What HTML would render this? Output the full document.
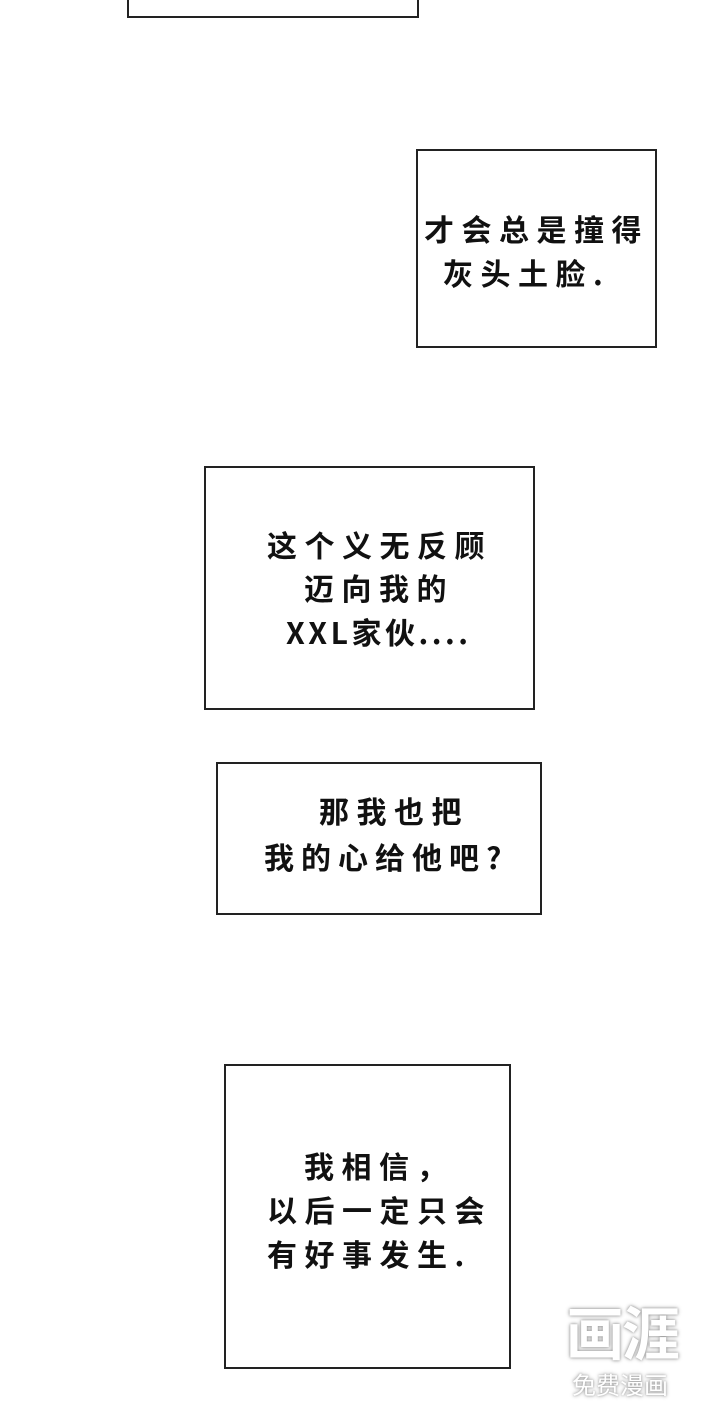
<!DOCTYPE html>
<html><head><meta charset="utf-8"><style>
html,body{margin:0;padding:0;background:#fff;}
body{width:720px;height:1415px;position:relative;overflow:hidden;font-family:"Liberation Sans","Noto Sans CJK SC",sans-serif;}
.b{position:absolute;border:2px solid #222;box-sizing:border-box;background:#fff;}
.t{position:absolute;font-family:"Noto Sans CJK SC","WenQuanYi Zen Hei",sans-serif;font-size:30px;line-height:30px;font-weight:bold;letter-spacing:7.5px;color:#111;white-space:nowrap;}
.wm{position:absolute;color:#fff;font-family:"Noto Sans CJK SC",sans-serif;text-shadow:0 0 4px #999,0 0 2px #aaa;}
</style></head><body>
<div class="b" style="left:127px;top:-10px;width:292px;height:28px"></div>
<div class="b" style="left:416px;top:149px;width:241px;height:199px"></div>
<div class="t" style="left:424px;top:213px">才会总是撞得</div>
<div class="t" style="left:443px;top:257px">灰头土脸.</div>

<div class="b" style="left:204px;top:466px;width:331px;height:244px"></div>
<div class="t" style="left:267px;top:529px">这个义无反顾</div>
<div class="t" style="left:304px;top:572px">迈向我的</div>
<div class="t" style="left:286px;top:616px;letter-spacing:3.5px">XXL家伙....</div>

<div class="b" style="left:216px;top:762px;width:326px;height:153px"></div>
<div class="t" style="left:319px;top:795px">那我也把</div>
<div class="t" style="left:264px;top:841px;letter-spacing:7px">我的心给他吧?</div>

<div class="b" style="left:224px;top:1064px;width:287px;height:305px"></div>
<div class="t" style="left:304px;top:1150px">我相信，</div>
<div class="t" style="left:267px;top:1194px">以后一定只会</div>
<div class="t" style="left:267px;top:1238px">有好事发生.</div>

<div class="wm" style="left:566px;top:1300px;font-size:58px;line-height:60px;font-weight:bold;letter-spacing:-2px">画涯</div>
<div class="wm" style="left:572px;top:1370px;font-size:24px;line-height:28px">免费漫画</div>
</body></html>
